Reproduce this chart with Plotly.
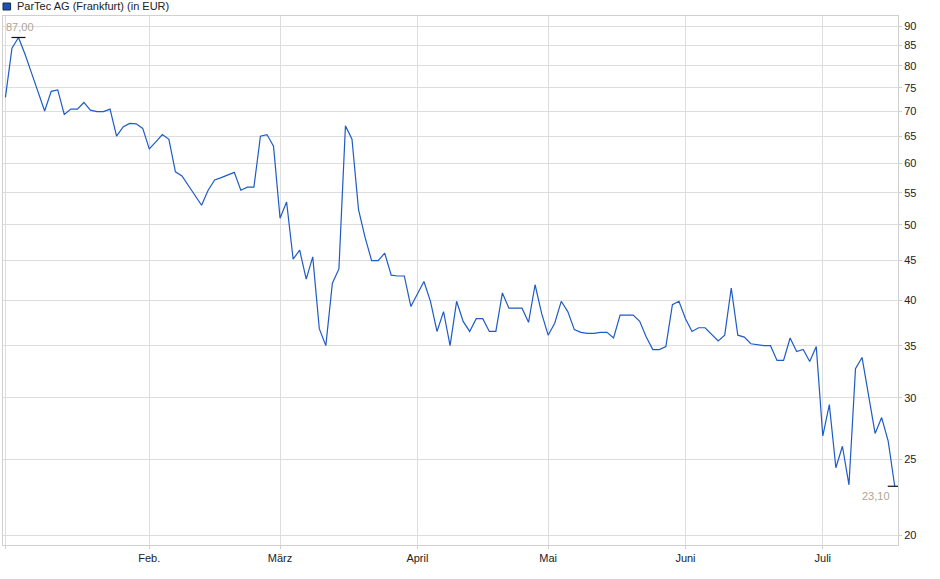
import math
import pandas as pd
import plotly.graph_objects as go

# closing prices per month (EUR), ParTec AG, Frankfurt, 2025
jan = [72.9, 84.3, 87.0, 82.8, 78.3, 74.1, 70.0, 74.2, 74.5, 69.3, 70.4,
       70.4, 71.8, 70.2, 69.9, 69.9, 70.4, 65.0, 66.8, 67.5, 67.4, 66.5]
feb = [62.6, 63.9, 65.3, 64.4, 58.5, 57.8, 56.1, 54.5, 53.0, 55.4,
       57.1, 57.5, 57.9, 58.4, 55.4, 55.9, 55.9, 65.0, 65.3, 63.1]
mar = [51.0, 53.5, 45.2, 46.4, 42.6, 45.5, 36.8, 35.0, 42.1, 43.9, 67.0,
       64.4, 52.3, 48.2, 45.0, 45.0, 46.0, 43.1, 43.0, 43.0, 39.3]
apr = [40.7, 42.3, 39.9, 36.5, 38.7, 35.0, 39.9, 37.6, 36.5, 37.9,
       37.9, 36.5, 36.5, 40.9, 39.1, 39.1, 39.1, 37.5, 41.9, 38.5]
may = [36.1, 37.4, 39.9, 38.7, 36.7, 36.4, 36.3, 36.3, 36.4, 36.4, 35.8,
       38.3, 38.3, 38.3, 37.6, 35.9, 34.6, 34.6, 34.9, 39.5, 39.9]
jun = [37.9, 36.5, 36.9, 36.9, 36.2, 35.5, 36.1, 41.5, 36.1, 35.9, 35.2,
       35.1, 35.0, 35.0, 33.5, 33.5, 35.8, 34.4, 34.6, 33.4, 34.9]
jul = [26.8, 29.4, 24.4, 26.0, 23.2, 32.7, 33.8, 30.1, 27.0, 28.3, 26.4, 23.1]

holidays = ["2025-01-01", "2025-04-18", "2025-04-21", "2025-05-01"]
month_starts = ["2025-01-02", "2025-02-03", "2025-03-03", "2025-04-01",
                "2025-05-02", "2025-06-02", "2025-07-01"]
month_labels = ["", "Feb.", "März", "April", "Mai", "Juni", "Juli"]
y_ticks = [20, 25, 30, 35, 40, 45, 50, 55, 60, 65, 70, 75, 80, 85, 90]

prices = jan + feb + mar + apr + may + jun + jul
days = pd.bdate_range("2025-01-02", "2025-07-16", freq="C", holidays=holidays)
dates = [d.strftime("%Y-%m-%d") for d in days]

hi = prices.index(max(prices))
last = len(prices) - 1

fig = go.Figure()
fig.add_trace(go.Scatter(x=dates, y=prices, mode="lines",
                         line=dict(color="#1f5bc6", width=1.2),
                         hoverinfo="x+y", showlegend=False))
fig.add_trace(go.Scatter(x=[dates[hi], dates[last]], y=[prices[hi], prices[last]],
                         mode="markers",
                         marker=dict(symbol="line-ew", size=10,
                                     line=dict(color="#111111", width=1.2)),
                         hoverinfo="skip", showlegend=False))

fig.add_annotation(x=dates[hi], y=math.log10(prices[hi]), text="87,00",
                   showarrow=False, yshift=10, xshift=1,
                   font=dict(size=11, color="#aea595"))
fig.add_annotation(x=dates[last], y=math.log10(prices[last]), text="23,10",
                   showarrow=False, xanchor="right", xshift=-3, yshift=-10,
                   font=dict(size=11, color="#aea595"))

# legend box + title
fig.add_shape(type="rect", xref="paper", yref="paper",
              x0=0.0, x1=0.0085, y0=1 + 6 / 529, y1=1 + 13 / 529,
              fillcolor="#1c52b4", line=dict(color="#1b2a4a", width=1))
fig.add_annotation(xref="paper", yref="paper", x=12 / 895, y=1 + 9.5 / 529,
                   xanchor="left", yanchor="middle", showarrow=False,
                   text="ParTec AG (Frankfurt) (in EUR)",
                   font=dict(size=11, color="#222222"))

fig.update_layout(
    width=940, height=579,
    margin=dict(l=3, r=42, t=16, b=34),
    paper_bgcolor="white", plot_bgcolor="white",
    font=dict(family="Liberation Sans, Arial, sans-serif", size=11, color="#222222"),
    xaxis=dict(type="category", range=[-0.37, len(prices) - 0.5],
               tickmode="array", tickvals=month_starts, ticktext=month_labels,
               showgrid=True, gridcolor="#dddddd", gridwidth=1,
               showline=True, linecolor="#d0d0d0", mirror=True,
               ticks="outside", ticklen=3, tickcolor="#d0d0d0", zeroline=False),
    yaxis=dict(type="log", side="right",
               range=[math.log10(19.42), math.log10(92.7)],
               tickmode="array", tickvals=y_ticks, ticktext=[str(v) for v in y_ticks],
               showgrid=True, gridcolor="#dddddd", gridwidth=1,
               showline=True, linecolor="#d0d0d0", mirror=True,
               ticks="outside", ticklen=3, tickcolor="#d0d0d0", zeroline=False),
)

# page body has a default 8px margin; drop it so the chart sits at 0,0
fig.write_html("out.html", config={"displayModeBar": False},
               post_script="document.body.style.margin='0';")
